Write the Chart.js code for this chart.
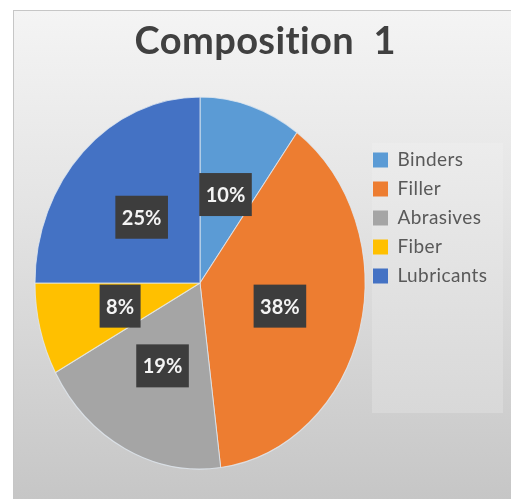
<!DOCTYPE html>
<html>
<head>
<meta charset="utf-8">
<script src="https://cdn.jsdelivr.net/npm/chart.js@4.4.1/dist/chart.umd.min.js"></script>
<style>
    html, body { margin: 0; padding: 0; background: #fff; }
    #frame {
        position: absolute; left: 13px; top: 10px;
        width: 497px; height: 488px;
        border: 1px solid #c6c6c6;
        background: linear-gradient(#f4f4f4, #e4e4e4 40%, #c6c6c6);
    }
    canvas { display: block; }
</style>
</head>
<body>
<div id="frame"><canvas id="chart" width="497" height="488"></canvas></div>
<script>
// Data
const categories = ['Binders', 'Filler', 'Abrasives', 'Fiber', 'Lubricants'];
const shares = [10, 38, 19, 8, 25];
const sliceColors = ['#5B9BD5', '#ED7D31', '#A5A5A5', '#FFC000', '#4472C4'];

const W = 497;
const stretchY = 186 / 165; // the pie in the picture is a bit taller than wide
const spacing = '0.4px';   // also keeps Lato from joining "ti"
const legendFont = { family: 'Lato', size: 19 };
const legendPad = 10;
const legendLeft = 349;
const areaLeft = 23;

// Work out the right padding so the legend starts where we want it
// (the legend is measured before any letter spacing is set)
const mctx = document.createElement('canvas').getContext('2d');
mctx.font = legendFont.size + 'px ' + legendFont.family;
const textWidth = Math.max(...categories.map(c => mctx.measureText(c).width));
const legendWidth = legendPad + 15 + legendFont.size / 2 + textWidth + 10;
const padRight = W - legendLeft - legendWidth;

/**
 * Light panel behind the legend
 */
const legendPanel = {
    id: 'legendPanel',
    beforeDraw(chart) {
        const ctx = chart.ctx;
        const x = chart.legend.left + 9;
        const y = chart.chartArea.top + 25;
        const g = ctx.createLinearGradient(0, y, 0, y + 270);
        g.addColorStop(0, '#ececec');
        g.addColorStop(1, '#d8d8d8');
        ctx.save();
        ctx.fillStyle = g;
        ctx.fillRect(x, y, 131, 270);
        ctx.restore();
        ctx.letterSpacing = spacing;
    }
};

/**
 * Stretch the pie vertically and put dark label boxes on the slices
 */
const stretchPie = {
    id: 'stretchPie',
    beforeDatasetsDraw(chart) {
        const arc = chart.getDatasetMeta(0).data[0];
        const ctx = chart.ctx;
        ctx.save();
        ctx.translate(arc.x, arc.y);
        ctx.scale(1, stretchY);
        ctx.translate(-arc.x, -arc.y);
    },
    afterDatasetsDraw(chart) {
        const ctx = chart.ctx;
        ctx.restore();
        ctx.save();
        ctx.letterSpacing = '0px';
        ctx.font = 'bold 20px Lato';
        ctx.textAlign = 'center';
        ctx.textBaseline = 'middle';
        chart.getDatasetMeta(0).data.forEach((arc, i) => {
            const p = arc.tooltipPosition();
            const x = p.x;
            const y = arc.y + (p.y - arc.y) * stretchY;
            const text = shares[i] + '%';
            const w = ctx.measureText(text).width + 13;
            const h = 43;
            ctx.fillStyle = '#3d3d3d';
            ctx.fillRect(x - w / 2, y - h / 2, w, h);
            ctx.fillStyle = '#f4f4f4';
            ctx.fillText(text, x, y + 1);
        });
        ctx.restore();
    }
};

new Chart(document.getElementById('chart'), {
    type: 'pie',
    data: {
        labels: categories,
        datasets: [{
            data: shares,
            backgroundColor: sliceColors,
            borderColor: 'rgba(225,232,240,0.8)',
            borderWidth: 1,
            radius: 165,
            clip: false
        }]
    },
    options: {
        responsive: false,
        animation: false,
        layout: {
            padding: { left: areaLeft, right: padRight, top: 0, bottom: 51 }
        },
        plugins: {
            tooltip: { enabled: false },
            title: {
                display: true,
                text: 'Composition  1',
                color: '#404040',
                font: { family: 'Lato', size: 38, weight: 'bold' },
                padding: { top: 8, bottom: 53.4 }
            },
            legend: {
                position: 'right',
                align: 'start',
                fullSize: false,
                title: {
                    display: true,
                    text: '',
                    font: { size: 1 },
                    padding: { top: 0, bottom: 21.3 }
                },
                labels: {
                    boxWidth: 15,
                    boxHeight: 15,
                    padding: legendPad,
                    color: '#595959',
                    font: legendFont,
                    generateLabels: (chart) =>
                        Chart.overrides.pie.plugins.legend.labels.generateLabels(chart)
                            .map(item => ({ ...item, lineWidth: 0 }))
                }
            }
        }
    },
    plugins: [legendPanel, stretchPie]
});
</script>
</body>
</html>
